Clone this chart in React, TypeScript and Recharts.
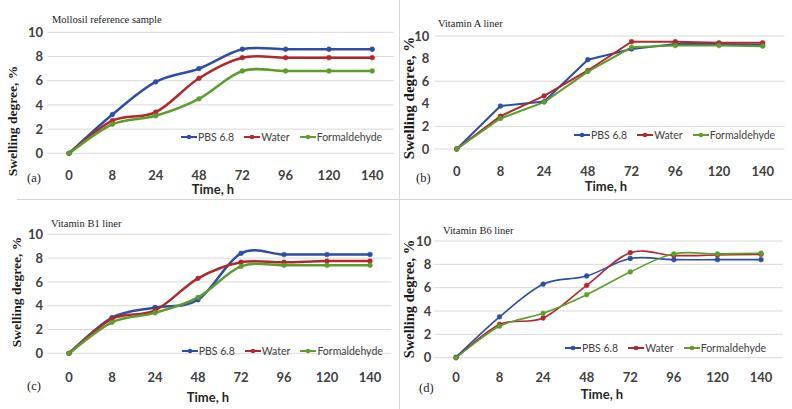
import React from "react";
import { LineChart, Line, XAxis, YAxis, CartesianGrid, Legend } from "recharts";

// Time points (category axis)
const hours = ["0", "8", "24", "48", "72", "96", "120", "140"];
const yTicks = [0, 2, 4, 6, 8, 10];

// (a) Mollosil reference sample
const mollosilPbs = [0, 3.2, 5.9, 7.0, 8.6, 8.6, 8.6, 8.6];
const mollosilWater = [0, 2.7, 3.4, 6.2, 7.9, 7.9, 7.9, 7.9];
const mollosilFormaldehyde = [0, 2.4, 3.1, 4.5, 6.8, 6.8, 6.8, 6.8];

// (b) Vitamin A liner
const vitAPbs = [0, 3.8, 4.2, 7.9, 8.85, 9.3, 9.3, 9.2];
const vitAWater = [0, 2.9, 4.7, 6.95, 9.5, 9.5, 9.4, 9.4];
const vitAFormaldehyde = [0, 2.7, 4.15, 6.85, 9.0, 9.15, 9.15, 9.1];

// (c) Vitamin B1 liner
const vitB1Pbs = [0, 3.0, 3.85, 4.5, 8.4, 8.3, 8.3, 8.3];
const vitB1Water = [0, 2.9, 3.6, 6.3, 7.65, 7.65, 7.75, 7.75];
const vitB1Formaldehyde = [0, 2.6, 3.4, 4.7, 7.3, 7.4, 7.4, 7.4];

// (d) Vitamin B6 liner
const vitB6Pbs = [0.05, 3.5, 6.3, 7.0, 8.5, 8.4, 8.4, 8.4];
const vitB6Water = [0, 2.85, 3.4, 6.2, 9.0, 8.75, 8.8, 8.85];
const vitB6Formaldehyde = [0, 2.7, 3.8, 5.4, 7.35, 8.9, 8.9, 8.95];

const seriesNames = ["PBS 6.8", "Water", "Formaldehyde"];
const seriesColors = ["#2b4ea6", "#b2282b", "#5c9e2c"];

// Excel-like smoothed line (Catmull-Rom through the points)
function excelSmooth(context: any) {
  let pts: number[][] = [];
  return {
    areaStart() {},
    areaEnd() {},
    lineStart() {
      pts = [];
    },
    point(x: number, y: number) {
      pts.push([+x, +y]);
    },
    lineEnd() {
      if (!pts.length) return;
      context.moveTo(pts[0][0], pts[0][1]);
      const t = 1 / 6;
      for (let i = 0; i < pts.length - 1; i++) {
        const p0 = pts[i - 1] || pts[i];
        const p1 = pts[i];
        const p2 = pts[i + 1];
        const p3 = pts[i + 2] || p2;
        context.bezierCurveTo(
          p1[0] + (p2[0] - p0[0]) * t,
          p1[1] + (p2[1] - p0[1]) * t,
          p2[0] - (p3[0] - p1[0]) * t,
          p2[1] - (p3[1] - p1[1]) * t,
          p2[0],
          p2[1]
        );
      }
    },
  };
}

function buildRows(a: number[], b: number[], c: number[]) {
  return hours.map((h, i) => ({ h, s0: a[i], s1: b[i], s2: c[i] }));
}

const serif = '"Liberation Serif", "Times New Roman", serif';
const sans = 'Lato, "Liberation Sans", sans-serif';

function LegendRow({ payload }: any) {
  // keep the series order (the legend sorts by name otherwise)
  const items = [...(payload || [])].sort(
    (a: any, b: any) => seriesNames.indexOf(a.value) - seriesNames.indexOf(b.value)
  );
  return (
    <div style={{ display: "flex", alignItems: "center", fontFamily: sans, fontSize: 10.5, color: "#404040", whiteSpace: "nowrap" }}>
      {items.map((p: any, i: number) => (
        <div key={i} style={{ display: "flex", alignItems: "center", marginRight: 10 }}>
          <svg width={16} height={8} style={{ marginRight: 1 }}>
            <line x1={0} y1={4} x2={16} y2={4} stroke={p.color} strokeWidth={2} />
            <circle cx={8} cy={4} r={2.3} fill={p.color} />
          </svg>
          <span>{p.value}</span>
        </div>
      ))}
    </div>
  );
}

interface PanelProps {
  box: { left: number; top: number; width: number; height: number };
  plot: { left: number; right: number; top: number; bottom: number };
  rows: any[];
  smooth: boolean;
  strokeWidth: number;
  title: string;
  letter: string;
  titlePos: [number, number];
  letterPos: [number, number];
  xTitlePos: [number, number];
  yTitlePos: [number, number];
  yTitleSize: number;
  legendPos: [number, number];
  xTickGap: number;
  yTickGap: number;
}

function Panel(p: PanelProps) {
  const yAxisW = 30;
  const xAxisH = 30;
  const margin = {
    left: p.plot.left - p.box.left - yAxisW,
    right: p.box.left + p.box.width - p.plot.right,
    top: p.plot.top - p.box.top,
    bottom: p.box.top + p.box.height - p.plot.bottom - xAxisH,
  };
  // half a category step on each side, so points sit in the middle of each slot
  const pad = (p.plot.right - p.plot.left) / 16;
  const tickStyle = { fontFamily: sans, fontSize: 13, fontWeight: 700, fill: "#404040" };
  return (
    <>
      <div style={{ position: "absolute", left: p.box.left, top: p.box.top }}>
        <LineChart width={p.box.width} height={p.box.height} data={p.rows} margin={margin}>
          <CartesianGrid vertical={false} stroke="#d9d9d9" />
          <XAxis
            dataKey="h"
            height={xAxisH}
            padding={{ left: pad, right: pad }}
            axisLine={false}
            tickLine={false}
            tickSize={0}
            tickMargin={p.xTickGap}
            tick={tickStyle}
            interval={0}
          />
          <YAxis
            width={yAxisW}
            domain={[0, 10]}
            ticks={yTicks}
            axisLine={false}
            tickLine={false}
            tickSize={0}
            tickMargin={p.yTickGap}
            tick={tickStyle}
          />
          <Legend
            layout="horizontal"
            verticalAlign="middle"
            align="center"
            content={<LegendRow />}
            wrapperStyle={{ position: "absolute", left: p.legendPos[0] - p.box.left, top: p.legendPos[1] - p.box.top - 7, width: "auto" }}
          />
          {["s0", "s1", "s2"].map((k, i) => (
            <Line
              key={k}
              dataKey={k}
              name={seriesNames[i]}
              type={p.smooth ? (excelSmooth as any) : "linear"}
              stroke={seriesColors[i]}
              strokeWidth={p.strokeWidth}
              dot={{ r: 2.4, fill: seriesColors[i], stroke: seriesColors[i], strokeWidth: 0.5 }}
              activeDot={false}
              isAnimationActive={false}
            />
          ))}
        </LineChart>
      </div>
      <div style={{ position: "absolute", left: p.titlePos[0], top: p.titlePos[1] - 7, fontFamily: serif, fontSize: 10.5, color: "#1a1a1a", whiteSpace: "nowrap", lineHeight: "14px" }}>
        {p.title}
      </div>
      <div style={{ position: "absolute", left: p.letterPos[0], top: p.letterPos[1] - 8, fontFamily: serif, fontSize: 12.5, color: "#1a1a1a", lineHeight: "16px" }}>
        {p.letter}
      </div>
      <div style={{ position: "absolute", left: p.xTitlePos[0] - 40, width: 80, textAlign: "center", top: p.xTitlePos[1] - 8, fontFamily: sans, fontSize: 13, fontWeight: 700, color: "#262626", lineHeight: "16px" }}>
        Time, h
      </div>
      <div
        style={{
          position: "absolute",
          left: p.yTitlePos[0] - 80,
          top: p.yTitlePos[1] - 9,
          width: 160,
          textAlign: "center",
          transform: "rotate(-90deg)",
          fontFamily: serif,
          fontSize: p.yTitleSize,
          fontWeight: 700,
          color: "#1a1a1a",
          lineHeight: "18px",
          whiteSpace: "nowrap",
        }}
      >
        Swelling degree, %
      </div>
    </>
  );
}

export default function App() {
  return (
    <div style={{ position: "absolute", left: 0, top: 0, width: 792, height: 409, background: "#fff", overflow: "hidden" }}>
      <div style={{ position: "absolute", left: 399, top: 0, width: 1, height: 409, background: "#d6d6d6" }} />
      <div style={{ position: "absolute", left: 17, top: 199, width: 775, height: 1, background: "#d6d6d6" }} />
      <Panel
        box={{ left: 0, top: 0, width: 398, height: 198 }}
        plot={{ left: 47.4, right: 393.9, top: 32.3, bottom: 153.3 }}
        rows={buildRows(mollosilPbs, mollosilWater, mollosilFormaldehyde)}
        smooth={true}
        strokeWidth={2.5}
        title="Mollosil reference sample"
        letter="(a)"
        titlePos={[52, 20]}
        letterPos={[27, 177.5]}
        xTitlePos={[213, 189]}
        yTitlePos={[13, 121]}
        yTitleSize={13.5}
        legendPos={[181, 137.5]}
        xTickGap={17}
        yTickGap={4.4}
      />
      <Panel
        box={{ left: 401, top: 0, width: 391, height: 198 }}
        plot={{ left: 434.85, right: 784.55, top: 36, bottom: 149 }}
        rows={buildRows(vitAPbs, vitAWater, vitAFormaldehyde)}
        smooth={false}
        strokeWidth={2}
        title="Vitamin A liner"
        letter="(b)"
        titlePos={[438, 24]}
        letterPos={[416, 177.5]}
        xTitlePos={[606, 186]}
        yTitlePos={[409, 98]}
        yTitleSize={15}
        legendPos={[574, 135.7]}
        xTickGap={18}
        yTickGap={5.5}
      />
      <Panel
        box={{ left: 0, top: 201, width: 398, height: 208 }}
        plot={{ left: 47.5, right: 391.5, top: 234.3, bottom: 353.3 }}
        rows={buildRows(vitB1Pbs, vitB1Water, vitB1Formaldehyde)}
        smooth={true}
        strokeWidth={2.5}
        title="Vitamin B1 liner"
        letter="(c)"
        titlePos={[51, 224]}
        letterPos={[27, 386]}
        xTitlePos={[208, 397]}
        yTitlePos={[17, 292]}
        yTitleSize={13.5}
        legendPos={[181.7, 351.7]}
        xTickGap={19}
        yTickGap={4.5}
      />
      <Panel
        box={{ left: 401, top: 201, width: 391, height: 208 }}
        plot={{ left: 434.2, right: 782.8, top: 241, bottom: 357.7 }}
        rows={buildRows(vitB6Pbs, vitB6Water, vitB6Formaldehyde)}
        smooth={true}
        strokeWidth={1.6}
        title="Vitamin B6 liner"
        letter="(d)"
        titlePos={[443, 231]}
        letterPos={[419, 388]}
        xTitlePos={[602, 394]}
        yTitlePos={[409, 299]}
        yTitleSize={14.5}
        legendPos={[565, 349.3]}
        xTickGap={15.5}
        yTickGap={3}
      />
    </div>
  );
}
